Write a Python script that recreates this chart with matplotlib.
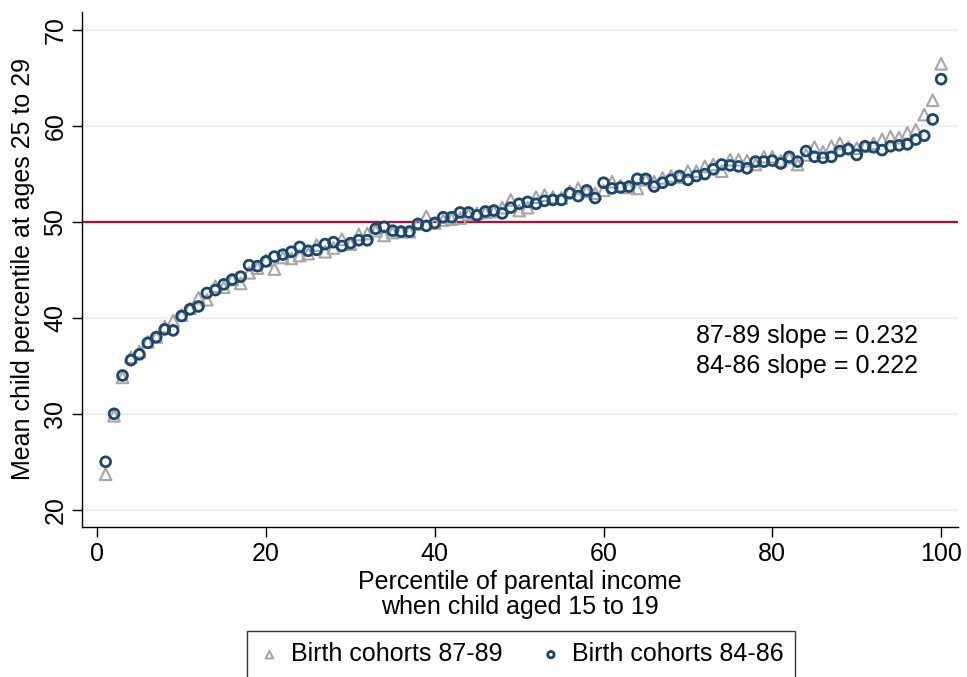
import matplotlib

matplotlib.use('Agg')

import matplotlib.pyplot as plt

import numpy as np



plt.rcParams.update({

    'font.family': ['Liberation Sans', 'DejaVu Sans'],

    'font.size': 18,

    'axes.spines.top': False,

    'axes.spines.right': False,

})



# parental income percentile (1..100)

pctile = np.arange(1, 101)



# mean child percentile, birth cohorts 87-89

cohort_8789 = [

    23.7, 29.8, 33.8, 35.9, 36.5, 37.5, 38.0, 39.1, 39.7, 40.3,

    41.0, 42.1, 41.9, 43.3, 43.2, 44.0, 43.6, 44.7, 45.2, 46.0,

    45.1, 46.3, 46.2, 46.5, 46.7, 47.6, 46.9, 47.3, 48.2, 47.7,

    48.7, 48.8, 49.1, 48.6, 48.9, 49.0, 49.0, 49.8, 50.6, 49.9,

    50.2, 50.3, 50.4, 50.8, 50.9, 51.0, 51.1, 51.5, 52.3, 51.2,

    51.5, 52.6, 52.8, 52.6, 52.5, 53.2, 53.5, 53.2, 53.0, 53.3,

    54.2, 53.8, 53.6, 53.5, 54.4, 54.2, 54.6, 54.8, 54.7, 55.3,

    55.3, 55.8, 56.0, 55.3, 56.5, 56.5, 56.4, 56.0, 56.8, 56.8,

    56.4, 56.7, 56.0, 57.0, 57.8, 57.3, 57.9, 58.2, 57.8, 57.7,

    57.9, 58.2, 58.6, 58.9, 58.8, 59.3, 59.6, 61.2, 62.7, 66.5,

]



# mean child percentile, birth cohorts 84-86

cohort_8486 = [

    25.0, 30.0, 34.0, 35.6, 36.2, 37.4, 38.0, 38.8, 38.7, 40.2,

    40.9, 41.2, 42.6, 42.9, 43.5, 44.0, 44.3, 45.5, 45.4, 45.9,

    46.4, 46.6, 46.9, 47.4, 47.0, 47.1, 47.7, 47.9, 47.5, 47.8,

    48.1, 48.1, 49.3, 49.5, 49.1, 49.0, 49.0, 49.8, 49.6, 49.9,

    50.5, 50.5, 51.0, 51.0, 50.7, 51.1, 51.2, 50.9, 51.5, 51.9,

    52.1, 51.9, 52.2, 52.3, 52.3, 53.0, 52.7, 53.3, 52.5, 54.1,

    53.5, 53.6, 53.7, 54.5, 54.5, 53.7, 54.1, 54.4, 54.8, 54.4,

    54.8, 55.0, 55.5, 56.0, 55.9, 55.8, 55.6, 56.3, 56.3, 56.4,

    56.1, 56.8, 56.3, 57.4, 56.8, 56.7, 56.8, 57.4, 57.6, 57.0,

    57.9, 57.8, 57.5, 57.9, 58.0, 58.1, 58.6, 59.0, 60.7, 64.9,

]



labels = ['Birth cohorts 87-89', 'Birth cohorts 84-86']

slopes = [0.232, 0.222]



navy = '#1a476f'

grey = '#a6a6a6'

grid_col = '#eaf2f3'

red = '#c10534'



fig = plt.figure(figsize=(9.67, 6.77), dpi=100)

ax = fig.add_axes([82 / 967, 1 - 527 / 677, 876 / 967, 515 / 677])



ax.set_xlim(-1.8, 102)

ax.set_ylim(18.2, 71.9)

ax.set_yticks(np.arange(20, 71, 10))

ax.set_xticks(np.arange(0, 101, 20))

ax.grid(axis='y', color=grid_col, linewidth=1.6, zorder=0)

ax.set_axisbelow(True)



ax.axhline(50, color=red, linewidth=1.6, zorder=2)



ax.scatter(pctile, cohort_8789, marker='^', s=70, facecolors='none',

           edgecolors=grey, linewidths=1.5, zorder=3, label=labels[0])

ax.scatter(pctile, cohort_8486, marker='o', s=50, facecolors='none',

           edgecolors=navy, linewidths=2.0, zorder=4, label=labels[1])



ax.text(70.9, 38.1, f'87-89 slope = {slopes[0]:.3f}', fontsize=18, va='center')

ax.text(70.9, 35.0, f'84-86 slope = {slopes[1]:.3f}', fontsize=18, va='center')



ax.tick_params(axis='both', length=7, width=1, labelsize=18, color='black')

plt.setp(ax.get_yticklabels(), rotation=90, va='center')

for s in ('left', 'bottom'):

    ax.spines[s].set_linewidth(1.0)



ax.set_xlabel('Percentile of parental income\nwhen child aged 15 to 19',

              fontsize=18, labelpad=3, linespacing=1.05)

ax.set_ylabel('Mean child percentile at ages 25 to 29', fontsize=18, labelpad=6)



leg = fig.legend(loc='upper center', bbox_to_anchor=(521 / 967, 1 - 631 / 677),

                 ncol=2, frameon=True, fancybox=False, edgecolor='black',

                 fontsize=18, borderaxespad=0, borderpad=0.45,

                 handletextpad=0.4, columnspacing=1.5, handlelength=0.9,

                 markerscale=0.65)

leg.get_frame().set_linewidth(1.0)



fig.savefig('out.png', dpi=100)
